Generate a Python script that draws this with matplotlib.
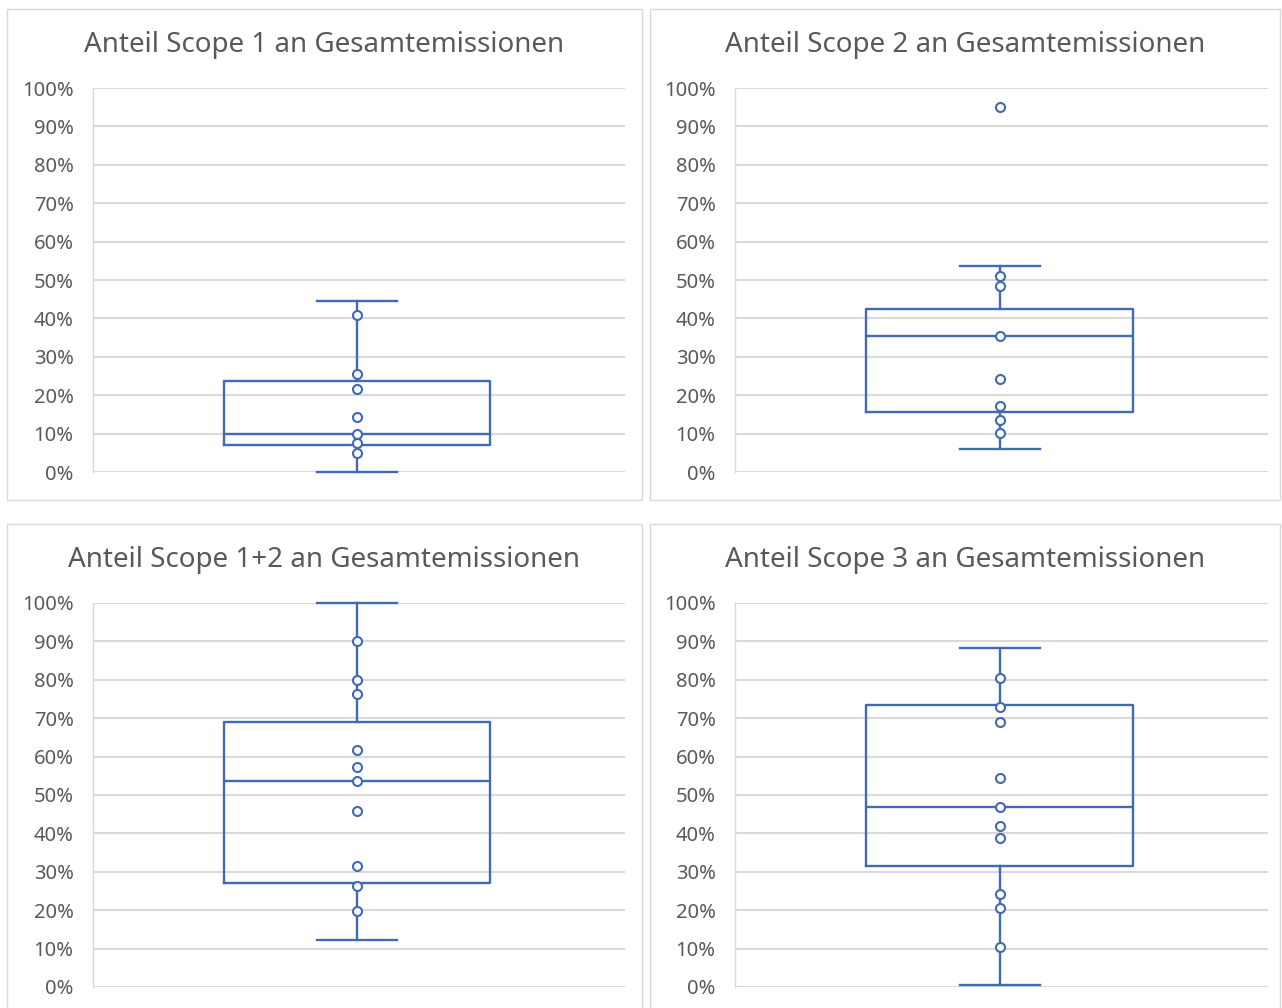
import numpy as np
import matplotlib
matplotlib.use("Agg")
import matplotlib.pyplot as plt
from matplotlib.patches import Rectangle
from matplotlib.ticker import PercentFormatter

plt.rcParams["font.family"] = ["Noto Sans", "DejaVu Sans"]

BLUE = "#4169B4"
GRID = "#d9d9d9"
TEXT = "#595959"

titles = [
    "Anteil Scope 1 an Gesamtemissionen",
    "Anteil Scope 2 an Gesamtemissionen",
    "Anteil Scope 1+2 an Gesamtemissionen",
    "Anteil Scope 3 an Gesamtemissionen",
]

# inner points (shares of total emissions)
scope1_points = [0.409, 0.256, 0.216, 0.142, 0.099, 0.075, 0.050]
scope2_points = [0.511, 0.484, 0.353, 0.241, 0.173, 0.135, 0.102]
scope12_points = [0.901, 0.799, 0.763, 0.617, 0.572, 0.537, 0.459, 0.315, 0.264, 0.198]
scope3_points = [0.804, 0.728, 0.689, 0.545, 0.468, 0.419, 0.387, 0.241, 0.207, 0.103]

# box statistics: lower whisker, Q1, median, Q3, upper whisker
whisker_low = [0.000, 0.060, 0.123, 0.004]
quartile_1 = [0.070, 0.155, 0.272, 0.315]
medians = [0.099, 0.353, 0.537, 0.468]
quartile_3 = [0.238, 0.424, 0.689, 0.734]
whisker_high = [0.446, 0.536, 1.000, 0.882]
outliers = [[], [0.951], [], []]

all_points = [scope1_points, scope2_points, scope12_points, scope3_points]

W, H = 1282, 1008
fig = plt.figure(figsize=(W / 100, H / 100), dpi=100)

# panel frames (px): left, top, right, bottom
frames = [(7, 9, 642, 500), (650, 9, 1280, 500), (7, 524, 642, 1012), (650, 524, 1280, 1012)]
# plot areas (px): left, top(100%), right, bottom(0%)
plot_areas = [(93, 88, 625, 472), (735, 88, 1268, 472), (93, 603, 625, 987), (735, 603, 1268, 987)]
title_y = [45, 45, 560, 560]
BOX_POS = 0.993


def px_rect(l, t, r, b):
    return [l / W, 1 - b / H, (r - l) / W, (b - t) / H]


for i in range(4):
    fl, ft, fr, fb = frames[i]
    fig.add_artist(Rectangle((fl / W, 1 - fb / H), (fr - fl) / W, (fb - ft) / H,
                             transform=fig.transFigure, fill=False,
                             edgecolor=GRID, linewidth=1))
    fig.text((fl + fr) / 2 / W, 1 - title_y[i] / H, titles[i], ha="center", va="center",
             fontsize=20, color=TEXT)

    ax = fig.add_axes(px_rect(*plot_areas[i]))

    stats = [{
        "whislo": whisker_low[i],
        "q1": quartile_1[i],
        "med": medians[i],
        "q3": quartile_3[i],
        "whishi": whisker_high[i],
        "fliers": outliers[i],
    }]
    line = dict(color=BLUE, linewidth=1.7)
    arts = ax.bxp(stats, positions=[BOX_POS], widths=[1.0], capwidths=[0.3],
                  showfliers=True, boxprops=line, whiskerprops=line,
                  capprops=line, medianprops=line,
                  flierprops=dict(marker="o", markersize=6.5, markerfacecolor="white",
                                  markeredgecolor=BLUE, markeredgewidth=1.5))
    for group in arts.values():
        for a in group:
            a.set_clip_on(False)

    pts = all_points[i]
    ax.plot(np.full(len(pts), BOX_POS), pts, "o", markersize=6.5, markerfacecolor="white",
            markeredgecolor=BLUE, markeredgewidth=1.5, clip_on=False, zorder=5)

    ax.set_xlim(0, 2)
    ax.set_ylim(0, 1)
    ax.set_xticks([])
    ax.set_yticks(np.arange(0, 1.01, 0.1))
    ax.yaxis.set_major_formatter(PercentFormatter(1.0, decimals=0))
    ax.tick_params(axis="y", length=0, pad=14, labelsize=14.5, labelcolor=TEXT)
    ax.grid(axis="y", color=GRID, linewidth=1.5)
    ax.set_axisbelow(True)
    for side in ["top", "right", "bottom"]:
        ax.spines[side].set_visible(False)
    ax.spines["left"].set_color(GRID)
    ax.spines["left"].set_linewidth(1)

fig.savefig("out.png", dpi=100)
